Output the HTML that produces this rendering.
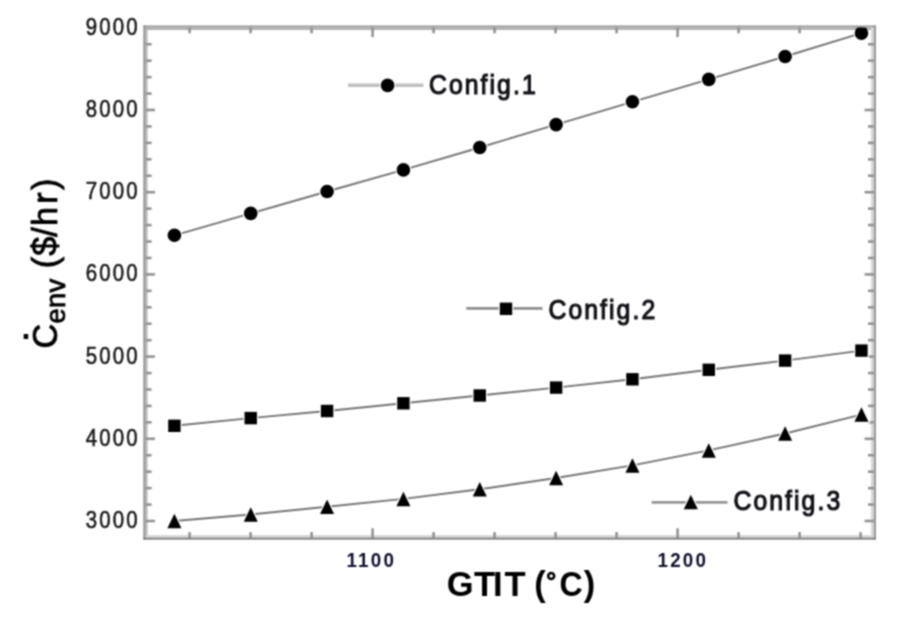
<!DOCTYPE html>
<html><head><meta charset="utf-8"><style>
html,body{margin:0;padding:0;background:#fff;width:904px;height:618px;overflow:hidden}
svg{display:block}
text{font-family:"Liberation Sans",sans-serif}
</style></head><body><svg width="904" height="618" viewBox="0 0 904 618"><defs><filter id="bl" x="0" y="0" width="904" height="618" filterUnits="userSpaceOnUse" color-interpolation-filters="sRGB"><feConvolveMatrix order="3" kernelMatrix="1 2 1 2 4 2 1 2 1" divisor="16" edgeMode="duplicate"/></filter></defs><g filter="url(#bl)"><rect x="0" y="0" width="904" height="618" fill="#fff"/><rect x="143.3" y="25.5" width="2.5" height="514.1" fill="#979797"/><rect x="145.8" y="27.5" width="1.9" height="510.4" fill="#c0c0c0"/><rect x="870.9" y="27.5" width="2.9" height="510.4" fill="#d8d8d8"/><rect x="873.8" y="25.5" width="2.2" height="514.1" fill="#9a9a9a"/><rect x="143.3" y="25.5" width="732.7" height="2.0" fill="#999999"/><rect x="145.8" y="27.5" width="725.1" height="2.5" fill="#b2b2b2"/><rect x="145.8" y="535.2" width="725.1" height="2.5" fill="#d4d4d4"/><rect x="143.3" y="537.7" width="732.7" height="1.9" fill="#7e7e7e"/><g stroke="#929292" stroke-width="2.6"><line x1="145.8" y1="521.00" x2="155.0" y2="521.00"/><line x1="873.8" y1="521.00" x2="864.5999999999999" y2="521.00"/><line x1="145.8" y1="504.56" x2="151.60000000000002" y2="504.56"/><line x1="873.8" y1="504.56" x2="868.0" y2="504.56"/><line x1="145.8" y1="488.12" x2="151.60000000000002" y2="488.12"/><line x1="873.8" y1="488.12" x2="868.0" y2="488.12"/><line x1="145.8" y1="471.68" x2="151.60000000000002" y2="471.68"/><line x1="873.8" y1="471.68" x2="868.0" y2="471.68"/><line x1="145.8" y1="455.24" x2="151.60000000000002" y2="455.24"/><line x1="873.8" y1="455.24" x2="868.0" y2="455.24"/><line x1="145.8" y1="438.80" x2="155.0" y2="438.80"/><line x1="873.8" y1="438.80" x2="864.5999999999999" y2="438.80"/><line x1="145.8" y1="422.36" x2="151.60000000000002" y2="422.36"/><line x1="873.8" y1="422.36" x2="868.0" y2="422.36"/><line x1="145.8" y1="405.92" x2="151.60000000000002" y2="405.92"/><line x1="873.8" y1="405.92" x2="868.0" y2="405.92"/><line x1="145.8" y1="389.48" x2="151.60000000000002" y2="389.48"/><line x1="873.8" y1="389.48" x2="868.0" y2="389.48"/><line x1="145.8" y1="373.04" x2="151.60000000000002" y2="373.04"/><line x1="873.8" y1="373.04" x2="868.0" y2="373.04"/><line x1="145.8" y1="356.60" x2="155.0" y2="356.60"/><line x1="873.8" y1="356.60" x2="864.5999999999999" y2="356.60"/><line x1="145.8" y1="340.16" x2="151.60000000000002" y2="340.16"/><line x1="873.8" y1="340.16" x2="868.0" y2="340.16"/><line x1="145.8" y1="323.72" x2="151.60000000000002" y2="323.72"/><line x1="873.8" y1="323.72" x2="868.0" y2="323.72"/><line x1="145.8" y1="307.28" x2="151.60000000000002" y2="307.28"/><line x1="873.8" y1="307.28" x2="868.0" y2="307.28"/><line x1="145.8" y1="290.84" x2="151.60000000000002" y2="290.84"/><line x1="873.8" y1="290.84" x2="868.0" y2="290.84"/><line x1="145.8" y1="274.40" x2="155.0" y2="274.40"/><line x1="873.8" y1="274.40" x2="864.5999999999999" y2="274.40"/><line x1="145.8" y1="257.96" x2="151.60000000000002" y2="257.96"/><line x1="873.8" y1="257.96" x2="868.0" y2="257.96"/><line x1="145.8" y1="241.52" x2="151.60000000000002" y2="241.52"/><line x1="873.8" y1="241.52" x2="868.0" y2="241.52"/><line x1="145.8" y1="225.08" x2="151.60000000000002" y2="225.08"/><line x1="873.8" y1="225.08" x2="868.0" y2="225.08"/><line x1="145.8" y1="208.64" x2="151.60000000000002" y2="208.64"/><line x1="873.8" y1="208.64" x2="868.0" y2="208.64"/><line x1="145.8" y1="192.20" x2="155.0" y2="192.20"/><line x1="873.8" y1="192.20" x2="864.5999999999999" y2="192.20"/><line x1="145.8" y1="175.76" x2="151.60000000000002" y2="175.76"/><line x1="873.8" y1="175.76" x2="868.0" y2="175.76"/><line x1="145.8" y1="159.32" x2="151.60000000000002" y2="159.32"/><line x1="873.8" y1="159.32" x2="868.0" y2="159.32"/><line x1="145.8" y1="142.88" x2="151.60000000000002" y2="142.88"/><line x1="873.8" y1="142.88" x2="868.0" y2="142.88"/><line x1="145.8" y1="126.44" x2="151.60000000000002" y2="126.44"/><line x1="873.8" y1="126.44" x2="868.0" y2="126.44"/><line x1="145.8" y1="110.00" x2="155.0" y2="110.00"/><line x1="873.8" y1="110.00" x2="864.5999999999999" y2="110.00"/><line x1="145.8" y1="93.56" x2="151.60000000000002" y2="93.56"/><line x1="873.8" y1="93.56" x2="868.0" y2="93.56"/><line x1="145.8" y1="77.12" x2="151.60000000000002" y2="77.12"/><line x1="873.8" y1="77.12" x2="868.0" y2="77.12"/><line x1="145.8" y1="60.68" x2="151.60000000000002" y2="60.68"/><line x1="873.8" y1="60.68" x2="868.0" y2="60.68"/><line x1="145.8" y1="44.24" x2="151.60000000000002" y2="44.24"/><line x1="873.8" y1="44.24" x2="868.0" y2="44.24"/><line x1="189.60" y1="537.9" x2="189.60" y2="532.1"/><line x1="189.60" y1="27.5" x2="189.60" y2="33.3"/><line x1="250.60" y1="537.9" x2="250.60" y2="532.1"/><line x1="250.60" y1="27.5" x2="250.60" y2="33.3"/><line x1="311.60" y1="537.9" x2="311.60" y2="532.1"/><line x1="311.60" y1="27.5" x2="311.60" y2="33.3"/><line x1="372.60" y1="537.9" x2="372.60" y2="528.3"/><line x1="372.60" y1="27.5" x2="372.60" y2="37.1"/><line x1="433.60" y1="537.9" x2="433.60" y2="532.1"/><line x1="433.60" y1="27.5" x2="433.60" y2="33.3"/><line x1="494.60" y1="537.9" x2="494.60" y2="532.1"/><line x1="494.60" y1="27.5" x2="494.60" y2="33.3"/><line x1="555.60" y1="537.9" x2="555.60" y2="532.1"/><line x1="555.60" y1="27.5" x2="555.60" y2="33.3"/><line x1="616.60" y1="537.9" x2="616.60" y2="532.1"/><line x1="616.60" y1="27.5" x2="616.60" y2="33.3"/><line x1="677.60" y1="537.9" x2="677.60" y2="528.3"/><line x1="677.60" y1="27.5" x2="677.60" y2="37.1"/><line x1="738.60" y1="537.9" x2="738.60" y2="532.1"/><line x1="738.60" y1="27.5" x2="738.60" y2="33.3"/><line x1="799.60" y1="537.9" x2="799.60" y2="532.1"/><line x1="799.60" y1="27.5" x2="799.60" y2="33.3"/><line x1="860.60" y1="537.9" x2="860.60" y2="532.1"/><line x1="860.60" y1="27.5" x2="860.60" y2="33.3"/></g><defs><clipPath id="ci"><rect x="147.7" y="30" width="723.2" height="504.8"/></clipPath><clipPath id="co"><rect x="145.8" y="27.5" width="728" height="510.4"/></clipPath></defs><g clip-path="url(#ci)"><g fill="none" stroke="#747474" stroke-width="1.9"><polyline points="174.40,235.30 250.74,213.40 327.08,191.50 403.42,169.90 479.76,147.50 556.10,124.60 632.44,101.80 708.78,79.40 785.12,56.50 861.46,33.10"/><polyline points="174.40,425.80 250.74,418.10 327.08,411.00 403.42,403.30 479.76,395.50 556.10,387.60 632.44,379.30 708.78,369.80 785.12,360.60 861.46,350.60"/><polyline points="174.40,521.00 250.74,514.50 327.08,506.70 403.42,498.90 479.76,489.30 556.10,478.00 632.44,465.40 708.78,450.40 785.12,433.50 861.46,414.60"/></g><g fill="#000" stroke="#fff" stroke-width="2.5"><circle cx="174.40" cy="235.30" r="6.8"/><circle cx="250.74" cy="213.40" r="6.8"/><circle cx="327.08" cy="191.50" r="6.8"/><circle cx="403.42" cy="169.90" r="6.8"/><circle cx="479.76" cy="147.50" r="6.8"/><circle cx="556.10" cy="124.60" r="6.8"/><circle cx="632.44" cy="101.80" r="6.8"/><circle cx="708.78" cy="79.40" r="6.8"/><circle cx="785.12" cy="56.50" r="6.8"/><circle cx="861.46" cy="33.10" r="6.8"/><rect x="168.20" y="419.60" width="12.4" height="12.4"/><rect x="244.54" y="411.90" width="12.4" height="12.4"/><rect x="320.88" y="404.80" width="12.4" height="12.4"/><rect x="397.22" y="397.10" width="12.4" height="12.4"/><rect x="473.56" y="389.30" width="12.4" height="12.4"/><rect x="549.90" y="381.40" width="12.4" height="12.4"/><rect x="626.24" y="373.10" width="12.4" height="12.4"/><rect x="702.58" y="363.60" width="12.4" height="12.4"/><rect x="778.92" y="354.40" width="12.4" height="12.4"/><rect x="855.26" y="344.40" width="12.4" height="12.4"/><polygon points="174.40,513.75 181.40,528.25 167.40,528.25"/><polygon points="250.74,507.25 257.74,521.75 243.74,521.75"/><polygon points="327.08,499.45 334.08,513.95 320.08,513.95"/><polygon points="403.42,491.65 410.42,506.15 396.42,506.15"/><polygon points="479.76,482.05 486.76,496.55 472.76,496.55"/><polygon points="556.10,470.75 563.10,485.25 549.10,485.25"/><polygon points="632.44,458.15 639.44,472.65 625.44,472.65"/><polygon points="708.78,443.15 715.78,457.65 701.78,457.65"/><polygon points="785.12,426.25 792.12,440.75 778.12,440.75"/><polygon points="861.46,407.35 868.46,421.85 854.46,421.85"/></g></g><g clip-path="url(#co)" fill="#000"><circle cx="174.40" cy="235.30" r="6.8"/><circle cx="250.74" cy="213.40" r="6.8"/><circle cx="327.08" cy="191.50" r="6.8"/><circle cx="403.42" cy="169.90" r="6.8"/><circle cx="479.76" cy="147.50" r="6.8"/><circle cx="556.10" cy="124.60" r="6.8"/><circle cx="632.44" cy="101.80" r="6.8"/><circle cx="708.78" cy="79.40" r="6.8"/><circle cx="785.12" cy="56.50" r="6.8"/><circle cx="861.46" cy="33.10" r="6.8"/><rect x="168.20" y="419.60" width="12.4" height="12.4"/><rect x="244.54" y="411.90" width="12.4" height="12.4"/><rect x="320.88" y="404.80" width="12.4" height="12.4"/><rect x="397.22" y="397.10" width="12.4" height="12.4"/><rect x="473.56" y="389.30" width="12.4" height="12.4"/><rect x="549.90" y="381.40" width="12.4" height="12.4"/><rect x="626.24" y="373.10" width="12.4" height="12.4"/><rect x="702.58" y="363.60" width="12.4" height="12.4"/><rect x="778.92" y="354.40" width="12.4" height="12.4"/><rect x="855.26" y="344.40" width="12.4" height="12.4"/><polygon points="174.40,513.75 181.40,528.25 167.40,528.25"/><polygon points="250.74,507.25 257.74,521.75 243.74,521.75"/><polygon points="327.08,499.45 334.08,513.95 320.08,513.95"/><polygon points="403.42,491.65 410.42,506.15 396.42,506.15"/><polygon points="479.76,482.05 486.76,496.55 472.76,496.55"/><polygon points="556.10,470.75 563.10,485.25 549.10,485.25"/><polygon points="632.44,458.15 639.44,472.65 625.44,472.65"/><polygon points="708.78,443.15 715.78,457.65 701.78,457.65"/><polygon points="785.12,426.25 792.12,440.75 778.12,440.75"/><polygon points="861.46,407.35 868.46,421.85 854.46,421.85"/></g><line x1="348" y1="85.2" x2="423.4" y2="85.2" stroke="#c0c0c0" stroke-width="3.6"/><line x1="466.3" y1="308.4" x2="542.5" y2="308.4" stroke="#8e8e8e" stroke-width="2.8"/><line x1="651.6" y1="502.4" x2="727.5" y2="502.4" stroke="#969696" stroke-width="2.8"/><g fill="#000" stroke="#fff" stroke-width="2.5"><circle cx="387.60" cy="85.40" r="6.8"/><rect x="499.80" y="302.60" width="12.4" height="12.4"/><polygon points="690.80,494.75 697.80,509.25 683.80,509.25"/></g><g fill="#000"><circle cx="387.60" cy="85.40" r="6.8"/><rect x="499.80" y="302.60" width="12.4" height="12.4"/><polygon points="690.80,494.75 697.80,509.25 683.80,509.25"/></g><g font-family="Liberation Sans" font-size="23.2" fill="#1a1a1a" stroke="#1a1a1a" stroke-width="0.6" text-anchor="end" letter-spacing="2.4"><text transform="translate(139.6,528.00) scale(0.88,1)">3000</text><text transform="translate(139.6,445.80) scale(0.88,1)">4000</text><text transform="translate(139.6,363.60) scale(0.88,1)">5000</text><text transform="translate(139.6,281.40) scale(0.88,1)">6000</text><text transform="translate(139.6,199.20) scale(0.88,1)">7000</text><text transform="translate(139.6,117.00) scale(0.88,1)">8000</text><text transform="translate(139.6,34.80) scale(0.88,1)">9000</text></g><g font-family="Liberation Sans" font-weight="bold" font-size="19.8" fill="#101030" stroke="#101030" stroke-width="0.0" letter-spacing="2.3"><text transform="translate(346.5,566.8) scale(0.95,1)">1100</text><text transform="translate(657.5,566.8) scale(0.95,1)">1200</text></g><g font-family="Liberation Sans" font-size="27.5" fill="#121218" stroke="#121218" stroke-width="1.2" letter-spacing="2.3"><text transform="translate(429,94) scale(0.9,1)">Config.1</text><text transform="translate(548.5,319) scale(0.9,1)">Config.2</text><text transform="translate(733.5,510.2) scale(0.9,1)">Config.3</text></g><g font-family="Liberation Sans" font-weight="bold" fill="#000" font-size="34.5"><text x="446.8" y="596" letter-spacing="0.25" dx="0 0 -2.2 1.6">GTIT</text><text transform="translate(534.3,596) scale(1.0,1)">(</text><text transform="translate(559.6,596) scale(0.93,1)">C</text><text transform="translate(583.8,596) scale(1.0,1)">)</text><circle cx="551.2" cy="576.1" r="3.0" fill="none" stroke="#000" stroke-width="2.5"/></g><g transform="translate(57.2,348.5) rotate(-90)" font-family="Liberation Sans" fill="#000" stroke="#000" stroke-width="0.8"><text x="0" y="0" font-size="34.3" letter-spacing="0.3">C<tspan font-size="27.3" dy="7.5">env</tspan><tspan dy="-7.5" font-size="34.3" letter-spacing="1.6" dx="0 -1 -0.4 -1.6 -0.5 1.5 0.8"> ($/hr)</tspan></text><rect x="9.5" y="-33.5" width="5" height="4.5" stroke="none"/></g></g></svg></body></html>
